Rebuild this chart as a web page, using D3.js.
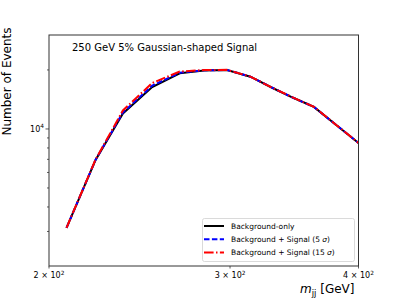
<!DOCTYPE html>
<html>
<head>
<meta charset="utf-8">
<script src="https://cdn.jsdelivr.net/npm/d3@7.9.0/dist/d3.min.js"></script>
<style>
  body { margin: 0; background: #fff; }
  svg { font-family: "DejaVu Sans", sans-serif; }
</style>
</head>
<body>
<svg id="chart" width="399" height="299"></svg>
<script>
// bin centres in m_jj [GeV]
const mjj = [208, 222, 236, 252, 268, 283, 298, 314, 330, 346, 362, 380, 400];
const bkgOnly = [3131, 6950, 11990, 16370, 19220, 19860, 19980, 18470, 16180, 14380, 12950, 10540, 8485];
const bkgSig5 = [3131, 6960, 12140, 16620, 19350, 19900, 19990, 18480, 16190, 14390, 12950, 10540, 8485];
const bkgSig15 = [3131, 6990, 12430, 17150, 19630, 19980, 20020, 18490, 16200, 14400, 12960, 10545, 8485];

const xTicks = [200, 300, 400];
const xTickLabels = ['2', '3', '4'];
const yMinorTicks = [3000, 4000, 5000, 6000, 7000, 8000, 9000, 20000];

const svg = d3.select('#chart');
const mLeft = 49, mRight = 358.5, mTop = 35, mBottom = 266;

const x = d3.scaleLog().domain([200, 400]).range([mLeft, mRight]);
const y = d3.scaleLog().domain([2000, 30150]).range([mBottom, mTop]);

// y ticks
let yAxis = svg.append('g');
yAxis.selectAll('.minor')
  .data(yMinorTicks)
  .enter()
  .append('line')
  .attr('x1', mLeft - 2)
  .attr('x2', mLeft)
  .attr('y1', d => y(d))
  .attr('y2', d => y(d))
  .attr('stroke', '#333')
  .attr('stroke-width', 0.8);
yAxis.append('line')
  .attr('x1', mLeft - 3.5).attr('x2', mLeft)
  .attr('y1', y(10000)).attr('y2', y(10000))
  .attr('stroke', '#333').attr('stroke-width', 0.8);
let yl = yAxis.append('text')
  .attr('x', mLeft - 5)
  .attr('y', y(10000) + 3)
  .attr('text-anchor', 'end')
  .attr('font-size', 8)
  .text('10');
yl.append('tspan').attr('dy', -3.5).attr('font-size', 5.8).text('4');

// x ticks
let xAxis = svg.append('g');
xTicks.forEach((t, i) => {
  xAxis.append('line')
    .attr('x1', x(t)).attr('x2', x(t))
    .attr('y1', mBottom).attr('y2', mBottom + 2.5)
    .attr('stroke', '#333').attr('stroke-width', 0.8);
  let lab = xAxis.append('text')
    .attr('x', x(t))
    .attr('y', mBottom + 12)
    .attr('text-anchor', 'middle')
    .attr('font-size', 8)
    .text(`${xTickLabels[i]} \u00d7 10`);
  lab.append('tspan').attr('dy', -3.5).attr('font-size', 5.8).text('2');
});

// lines
const line = d3.line()
  .x((d, i) => x(mjj[i]))
  .y(d => y(d));

const series = [
  { values: bkgOnly, color: '#000000', dash: null, label: 'Background-only' },
  { values: bkgSig5, color: '#0000ff', dash: '5.5,2.4', label: 'Background + Signal (5 ', sig: true },
  { values: bkgSig15, color: '#ff0000', dash: '9.6,2.4,1.5,2.4', label: 'Background + Signal (15 ', sig: true },
];

series.forEach(s => {
  svg.append('path')
    .attr('d', line(s.values))
    .attr('fill', 'none')
    .attr('stroke', s.color)
    .attr('stroke-width', 2)
    .attr('stroke-dasharray', s.dash);
});

// frame
svg.append('rect')
  .attr('x', mLeft).attr('y', mTop)
  .attr('width', mRight - mLeft).attr('height', mBottom - mTop)
  .attr('fill', 'none')
  .attr('stroke', '#333')
  .attr('stroke-width', 1);

// title inside plot
svg.append('text')
  .attr('x', 72)
  .attr('y', 51)
  .attr('font-size', 10)
  .text('250 GeV 5% Gaussian-shaped Signal');

// axis labels
svg.append('text')
  .attr('transform', 'translate(11,81.5) rotate(-90)')
  .attr('text-anchor', 'middle')
  .attr('font-size', 12)
  .text('Number of Events');

let xlab = svg.append('text')
  .attr('x', mRight - 4)
  .attr('y', 293)
  .attr('text-anchor', 'end')
  .attr('font-size', 12);
xlab.append('tspan').attr('font-style', 'italic').text('m');
xlab.append('tspan').attr('font-size', 8.5).attr('dy', 3).text('jj');
xlab.append('tspan').attr('dy', -3).text(' [GeV]');

// legend
let legend = svg.append('g');
legend.append('rect')
  .attr('x', 202.5).attr('y', 218.5)
  .attr('width', 152).attr('height', 43)
  .attr('rx', 2)
  .attr('fill', '#fff')
  .attr('fill-opacity', 0.8)
  .attr('stroke', '#d0d0d0')
  .attr('stroke-width', 0.8);
series.forEach((s, i) => {
  let ly = 226 + i * 13.2;
  legend.append('line')
    .attr('x1', 204).attr('x2', 224)
    .attr('y1', ly).attr('y2', ly)
    .attr('stroke', s.color)
    .attr('stroke-width', 2)
    .attr('stroke-dasharray', s.dash);
  let t = legend.append('text')
    .attr('x', 231)
    .attr('y', ly + 2.7)
    .attr('font-size', 7.5)
    .text(s.label);
  if (s.sig) {
    t.append('tspan').attr('font-style', 'italic').text('\u03c3');
    t.append('tspan').text(')');
  }
});
</script>
</body>
</html>
